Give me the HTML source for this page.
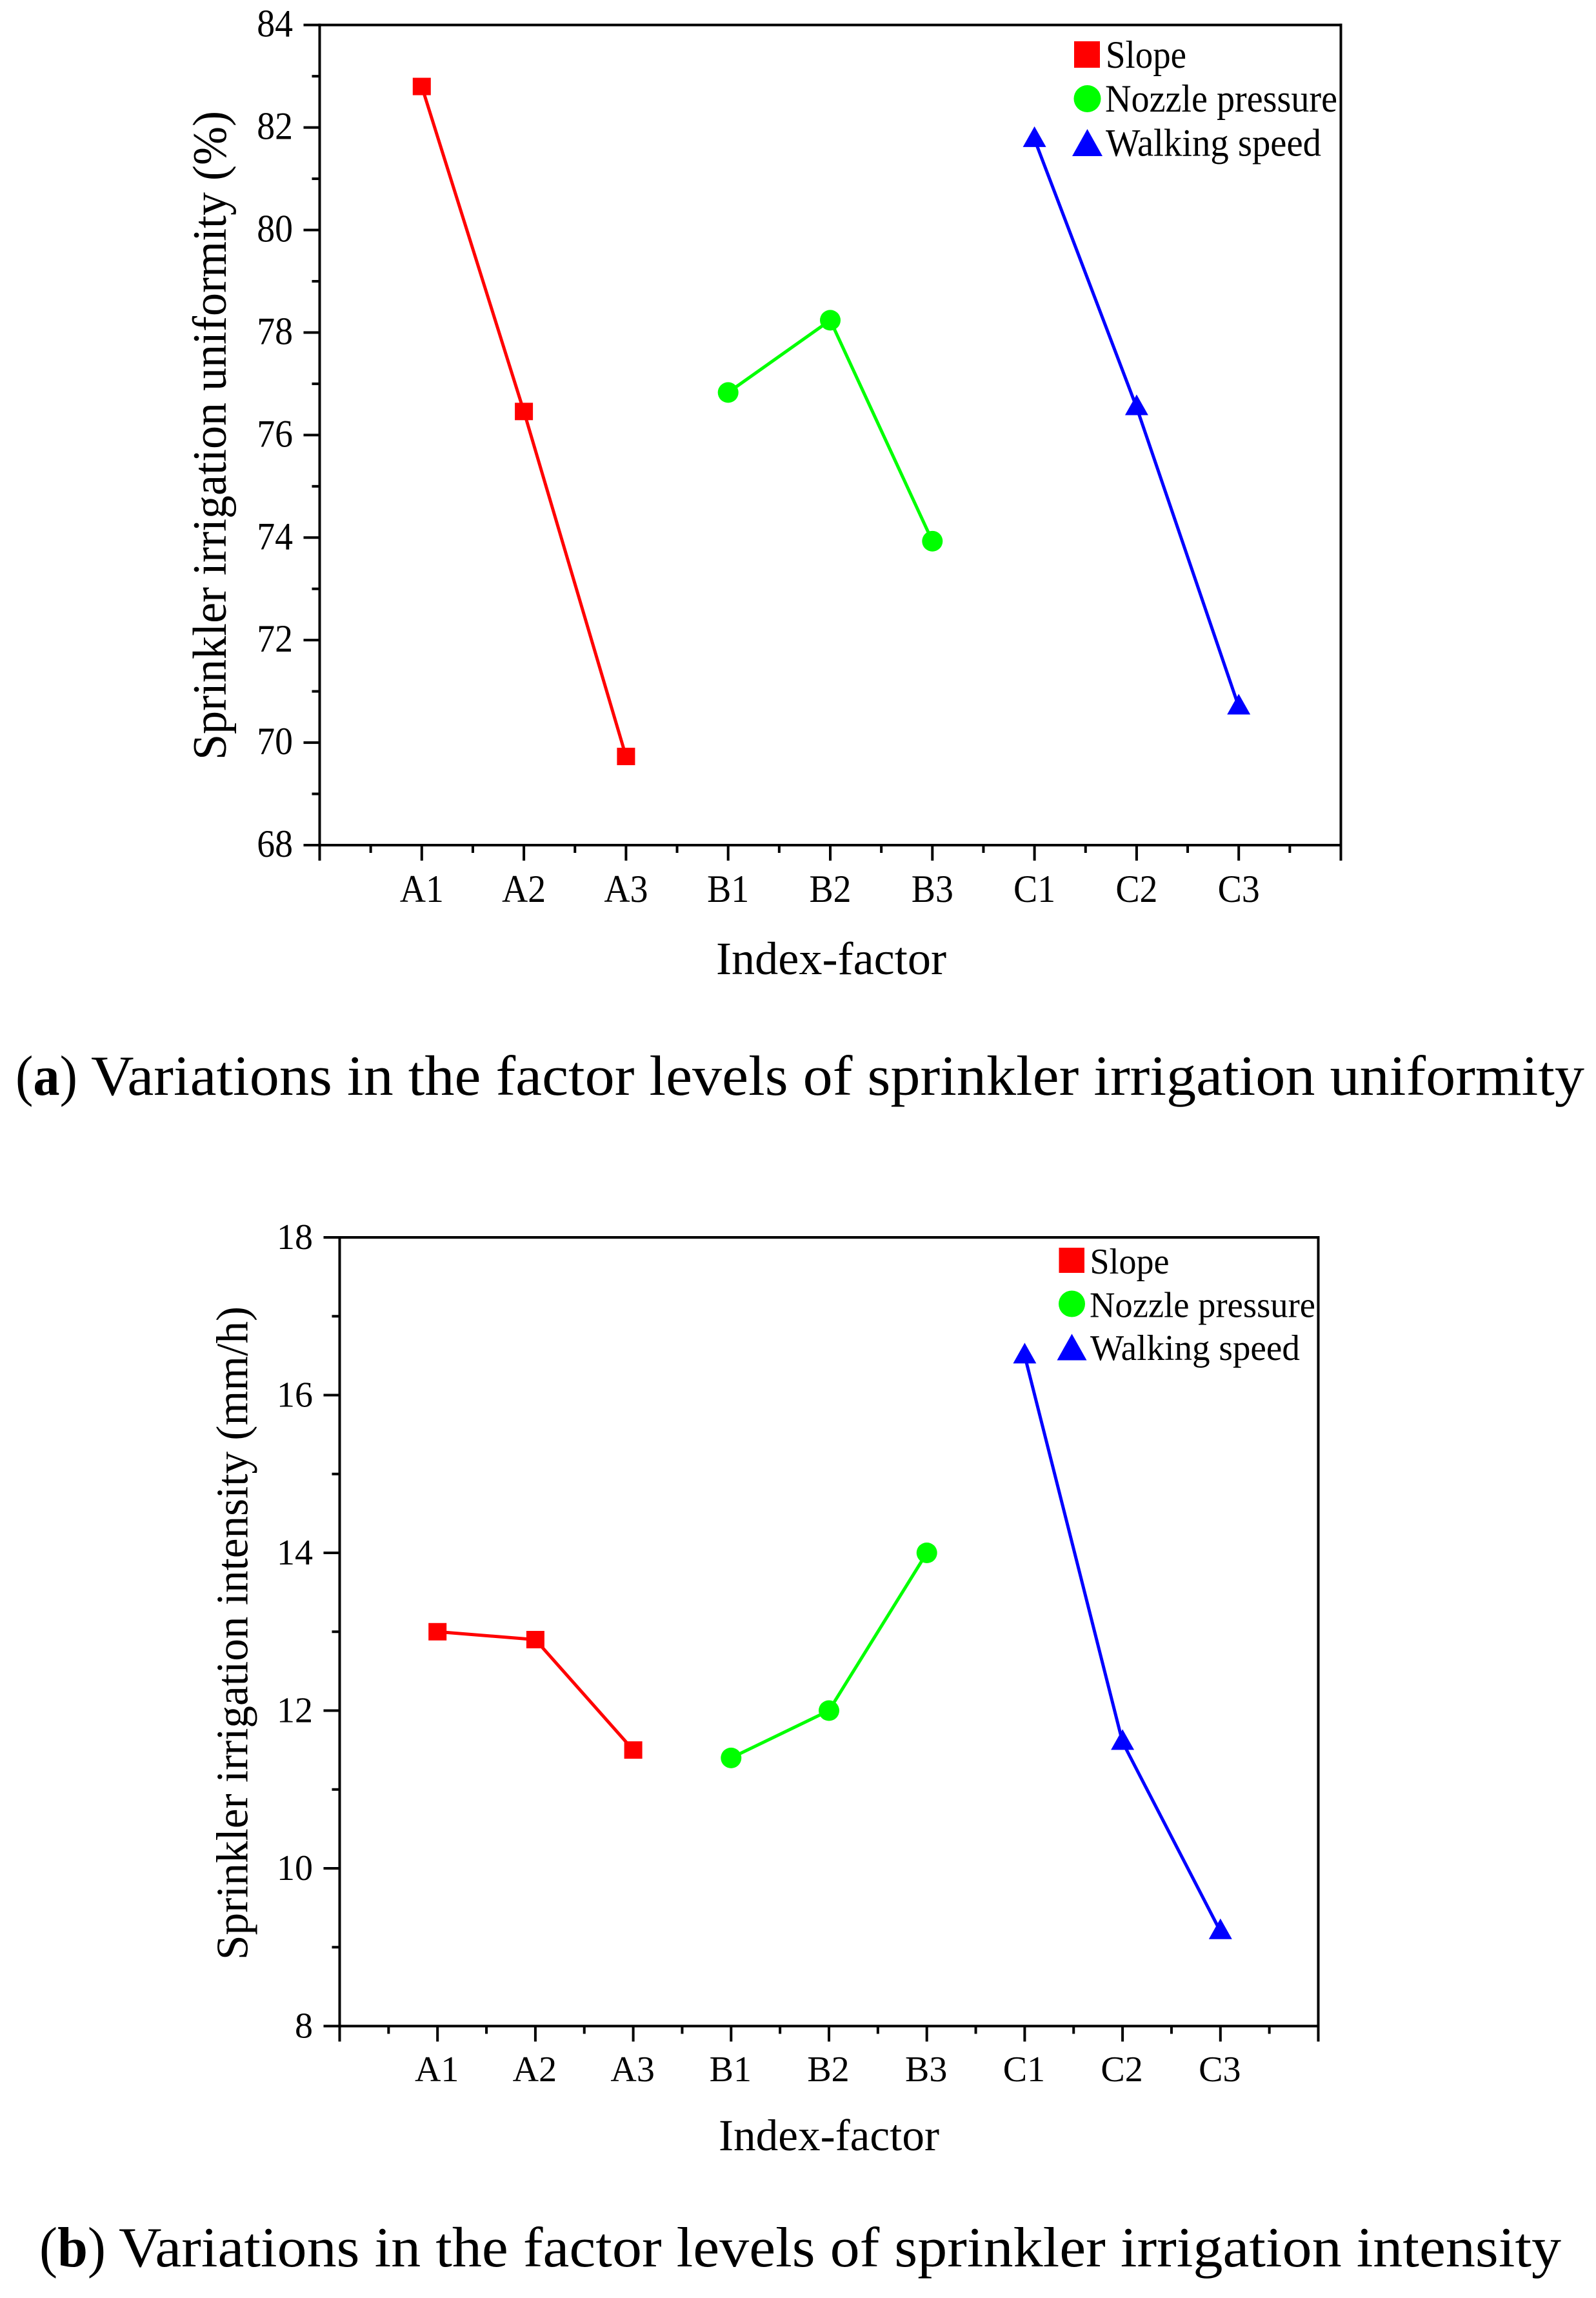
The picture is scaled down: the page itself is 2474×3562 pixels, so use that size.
<!DOCTYPE html>
<html lang="en">
<head>
<meta charset="utf-8">
<title>Variations in the factor levels of sprinkler irrigation</title>
<style>
html,body{margin:0;padding:0;background:#fff;width:2474px;height:3562px;overflow:hidden}
svg{display:block}
text{font-family:"Liberation Serif","Times New Roman",serif;fill:#000}
</style>
</head>
<body>
<svg id="figure" xmlns="http://www.w3.org/2000/svg" width="2474" height="3562" viewBox="0 0 2474 3562">
  <rect x="0" y="0" width="2474" height="3562" fill="#fff"/>
  <g id="chart-a"></g>
  <g id="chart-b"></g>

  <g>
    <rect x="1665" y="64" width="40" height="41" fill="#f00"/>
    <text x="1714" y="105" font-size="60" textLength="125" lengthAdjust="spacingAndGlyphs">Slope</text>
    <circle cx="1685.5" cy="153" r="21" fill="#0f0"/>
    <text x="1713" y="173" font-size="60" textLength="360" lengthAdjust="spacingAndGlyphs">Nozzle pressure</text>
    <polygon points="1685.5,200 1709,242 1662,242" fill="#00f"/>
    <text x="1714" y="241.5" font-size="60" textLength="334" lengthAdjust="spacingAndGlyphs">Walking speed</text>
  </g>

  <g>
    <rect x="1641.5" y="1934" width="39.5" height="39" fill="#f00"/>
    <text x="1689.5" y="1974" font-size="56" textLength="123" lengthAdjust="spacingAndGlyphs">Slope</text>
    <circle cx="1661.5" cy="2021" r="20.5" fill="#0f0"/>
    <text x="1689" y="2041.5" font-size="56" textLength="350" lengthAdjust="spacingAndGlyphs">Nozzle pressure</text>
    <polygon points="1661.5,2067.5 1684.5,2108.5 1638.5,2108.5" fill="#00f"/>
    <text x="1690" y="2108" font-size="56" textLength="325" lengthAdjust="spacingAndGlyphs">Walking speed</text>
  </g>

  <g>
    <text x="24" y="1697" font-size="88" textLength="96" lengthAdjust="spacingAndGlyphs">(<tspan font-weight="bold">a</tspan>)</text>
    <text x="141" y="1697" font-size="88" textLength="2315" lengthAdjust="spacingAndGlyphs">Variations in the factor levels of sprinkler irrigation uniformity</text>
  </g>
  <g>
    <text x="61" y="3513" font-size="88" textLength="103" lengthAdjust="spacingAndGlyphs">(<tspan font-weight="bold">b</tspan>)</text>
    <text x="184" y="3513" font-size="88" textLength="2236" lengthAdjust="spacingAndGlyphs">Variations in the factor levels of sprinkler irrigation intensity</text>
  </g>
</svg>

<script>
const NS = 'http://www.w3.org/2000/svg';

const categories = ['A1', 'A2', 'A3', 'B1', 'B2', 'B3', 'C1', 'C2', 'C3'];
const seriesNames = ['slope', 'nozzle-pressure', 'walking-speed'];
const seriesColors = ['#f00', '#0f0', '#00f'];

const uniformitySlope = [82.8, 76.46, 69.73];
const uniformityNozzle = [76.83, 78.24, 73.93];
const uniformitySpeed = [81.77, 76.54, 70.7];
const uniformityTicks = [68, 70, 72, 74, 76, 78, 80, 82, 84];
const uniformityMinorTicks = [69, 71, 73, 75, 77, 79, 81, 83];

const intensitySlope = [13, 12.9, 11.5];
const intensityNozzle = [11.4, 12, 14];
const intensitySpeed = [16.5, 11.6, 9.2];
const intensityTicks = [8, 10, 12, 14, 16, 18];
const intensityMinorTicks = [9, 11, 13, 15, 17];

function rect(parent, x, y, w, h, name) {
  const el = document.createElementNS(NS, 'rect');
  el.setAttribute('x', x);
  el.setAttribute('y', y);
  el.setAttribute('width', w);
  el.setAttribute('height', h);
  el.setAttribute('fill', '#000');
  
  
  parent.appendChild(el);
  return el;
}

function label(parent, str, x, y, size, anchor, sx, name) {
  const el = document.createElementNS(NS, 'text');
  el.setAttribute('transform', 'translate(' + x + ',' + y + ') scale(' + sx + ',1)');
  el.setAttribute('font-size', size);
  el.setAttribute('text-anchor', anchor);
  el.textContent = str;
  
  
  parent.appendChild(el);
  return el;
}

function drawChart(root, cfg, ticks, minorTicks, seriesList) {
  const L = cfg.left, R = cfg.right, T = cfg.top, B = cfg.bottom;
  const xScale = function (i) { return L + (R - L) * i / 10; };
  const yScale = function (v) { return B - (B - T) * (v - cfg.yMin) / (cfg.yMax - cfg.yMin); };
  const lw = cfg.axisWidth, hw = lw / 2;

  rect(root, L - hw, T - hw, lw, B - T + lw + 22, 'left-axis');
  rect(root, R - hw, T - hw, lw, B - T + lw + 22, 'right-axis');
  rect(root, L - hw, T - hw, R - L + lw, lw, 'top-axis');
  rect(root, L - hw, B - hw, R - L + lw, lw, 'bottom-axis');

  ticks.forEach(function (v) {
    const y = yScale(v);
    rect(root, L - 25, y - hw, 25, lw, 'y-tick-' + v);
    label(root, String(v), cfg.yLabelX, y + 18, cfg.tickFont, 'end', cfg.tickScale, 'y-tick-label-' + v);
  });
  minorTicks.forEach(function (v) {
    rect(root, L - 12, yScale(v) - hw, 12, lw, 'y-minor-tick-' + v);
  });

  categories.forEach(function (c, i) {
    const x = xScale(i + 1);
    rect(root, x - hw, B, lw, 24, 'x-tick-' + c);
    label(root, c, x + cfg.xLabelDx, cfg.xLabelY, cfg.tickFont, 'middle', cfg.tickScale, 'x-tick-label-' + c);
  });
  for (let i = 0; i < 10; i++) {
    rect(root, xScale(i + 0.5) - hw, B, lw, 12, 'x-minor-tick');
  }

  const xt = document.createElementNS(NS, 'text');
  xt.setAttribute('x', cfg.xTitleX);
  xt.setAttribute('y', cfg.xTitleY);
  xt.setAttribute('font-size', cfg.xTitleFont);
  xt.setAttribute('textLength', cfg.xTitleLen);
  xt.setAttribute('lengthAdjust', 'spacingAndGlyphs');
  xt.textContent = 'Index-factor';
  
  
  root.appendChild(xt);

  const yt = document.createElementNS(NS, 'text');
  yt.setAttribute('transform', 'translate(' + cfg.yTitleX + ',' + cfg.yTitleY + ') rotate(-90)');
  yt.setAttribute('font-size', cfg.yTitleFont);
  yt.setAttribute('textLength', cfg.yTitleLen);
  yt.setAttribute('lengthAdjust', 'spacingAndGlyphs');
  yt.textContent = cfg.yTitle;
  
  
  root.appendChild(yt);

  seriesList.forEach(function (vals, s) {
    const g = document.createElementNS(NS, 'g');
    
    
    root.appendChild(g);
    const color = seriesColors[s];
    const pts = vals.map(function (v, i) { return [xScale(s * 3 + i + 1), yScale(v)]; });

    const line = document.createElementNS(NS, 'polyline');
    line.setAttribute('points', pts.map(function (p) { return p.join(','); }).join(' '));
    line.setAttribute('fill', 'none');
    line.setAttribute('stroke', color);
    line.setAttribute('stroke-width', cfg.lineWidth);
    
    
    g.appendChild(line);

    pts.forEach(function (p, i) {
      let m;
      if (s === 0) {
        m = document.createElementNS(NS, 'rect');
        m.setAttribute('x', p[0] - 14);
        m.setAttribute('y', p[1] - 13.5);
        m.setAttribute('width', 28);
        m.setAttribute('height', 27);
      } else if (s === 1) {
        m = document.createElementNS(NS, 'circle');
        m.setAttribute('cx', p[0]);
        m.setAttribute('cy', p[1]);
        m.setAttribute('r', 16);
      } else {
        m = document.createElementNS(NS, 'polygon');
        m.setAttribute('points', p[0] + ',' + (p[1] - 20) + ' ' + (p[0] + 18) + ',' + (p[1] + 12) + ' ' + (p[0] - 18) + ',' + (p[1] + 12));
      }
      m.setAttribute('fill', color);
      
      
      g.appendChild(m);
    });
  });
}

drawChart(document.getElementById('chart-a'), {
  left: 495.5, right: 2078.5, top: 38.7, bottom: 1310, yMin: 68, yMax: 84,
  axisWidth: 4, lineWidth: 5, tickFont: 60, tickScale: 0.93,
  yLabelX: 454, xLabelY: 1398, xLabelDx: 0,
  xTitleX: 1110, xTitleY: 1510, xTitleFont: 72, xTitleLen: 357,
  yTitleX: 350, yTitleY: 1178, yTitleFont: 74, yTitleLen: 1006,
  yTitle: 'Sprinkler irrigation uniformity (%)'
}, uniformityTicks, uniformityMinorTicks, [uniformitySlope, uniformityNozzle, uniformitySpeed]);

drawChart(document.getElementById('chart-b'), {
  left: 526.5, right: 2043.5, top: 1918, bottom: 3140.5, yMin: 8, yMax: 18,
  axisWidth: 4, lineWidth: 5, tickFont: 56, tickScale: 1,
  yLabelX: 485, xLabelY: 3226, xLabelDx: -1,
  xTitleX: 1114, xTitleY: 3333, xTitleFont: 69, xTitleLen: 342,
  yTitleX: 383.5, yTitleY: 3038, yTitleFont: 70, yTitleLen: 1013,
  yTitle: 'Sprinkler irrigation intensity (mm/h)'
}, intensityTicks, intensityMinorTicks, [intensitySlope, intensityNozzle, intensitySpeed]);
</script>
</body>
</html>
